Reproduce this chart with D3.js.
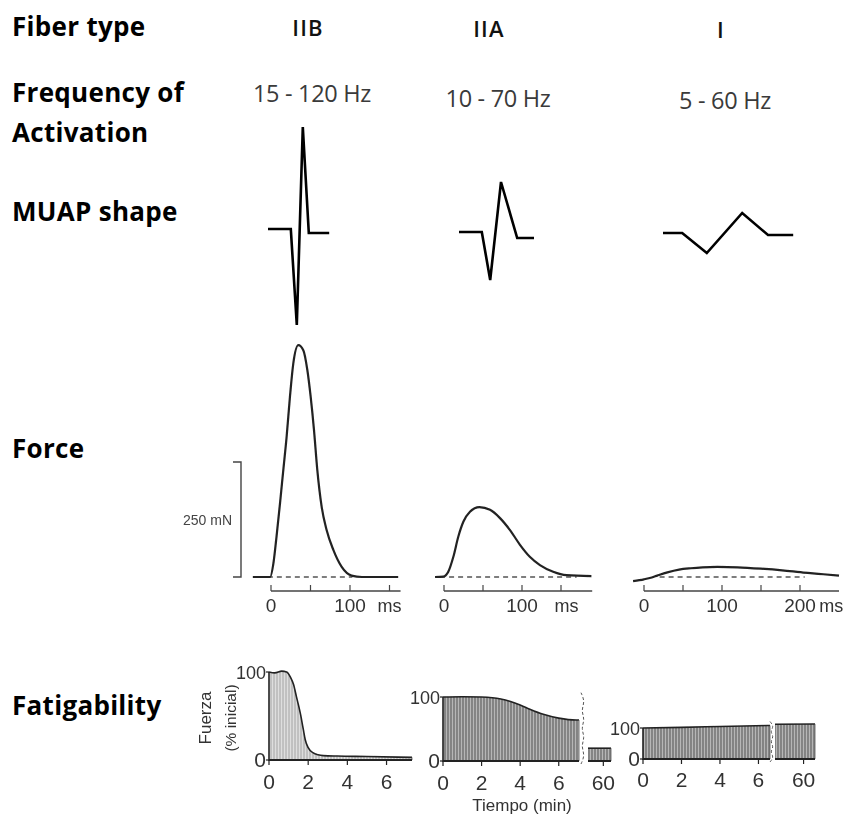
<!DOCTYPE html>
<html>
<head>
<meta charset="utf-8">
<script src="https://cdn.jsdelivr.net/npm/d3@7"></script>
<style>
  body { margin: 0; background: #fff; }
  svg { display: block; }
</style>
</head>
<body>
<svg id="chart" width="851" height="814"></svg>
<script>
// ---------- data ----------
const fiberTypes = ["IIB", "IIA", "I"];
const freqLabels = ["15 - 120 Hz", "10 - 70 Hz", "5 - 60 Hz"];
const rowLabels = [["Fiber type"], ["Frequency of", "Activation"], ["MUAP shape"], ["Force"], ["Fatigability"]];

// MUAP waveforms: time (ms) and amplitude (arbitrary units, positive up)
const muapTimeIIB = [0, 3.8, 4.8, 5.8, 6.8, 10.2];
const muapAmpIIB  = [0.02, 0.02, -0.94, 1.04, -0.02, -0.02];
const muapTimeIIA = [0, 3.8, 5.2, 7.0, 9.7, 12.5];
const muapAmpIIA  = [0.03, 0.03, -0.45, 0.53, -0.03, -0.03];
const muapTimeI   = [0, 3.2, 7.3, 13.2, 17.5, 21.7];
const muapAmpI    = [0.01, 0.01, -0.19, 0.21, -0.01, -0.01];

// Twitch force: time (ms) and force (mN)
const twitchTimeIIB = [-23, -5, -1, 3, 7, 11.4, 15.6, 19.8, 24, 28.2, 34.6, 40.9, 46, 50.2, 54.4, 58.6, 64.1, 70.4, 78.9, 89.5, 102, 115, 161];
const twitchIIB     = [0, 0, 0, 29, 88, 160, 233, 305, 392, 464, 504, 493, 450, 392, 320, 233, 153, 102, 59, 22, 3, 0, 0];
const twitchTimeIIA = [-11.5, -1, 5.5, 12, 18.4, 24.8, 33.3, 45.3, 59, 71.8, 84.6, 97.4, 110, 123, 140, 157, 189];
const twitchIIA     = [0, 1, 11.5, 44, 88, 120, 142, 152, 146, 128, 102, 70, 44, 26, 11.5, 4, 2];
const twitchTimeI   = [-14, 0, 10, 17, 30, 45, 60, 75, 94, 120, 150, 180, 210, 230, 250];
const twitchI       = [-9, -5, -1, 3, 10, 16, 19, 21, 22, 21, 18, 14, 9, 6, 3];
const twitchTicks   = [[0, 50, 100, 150], [0, 50, 100, 150], [0, 50, 100, 150, 200]];
const twitchTickLabels = [[["0", 0], ["100", 100], ["ms", 150]], [["0", 0], ["100", 100], ["ms", 157]], [["0", 0], ["100", 100], ["200", 200], ["ms", 240]]];
const twitchDashRange = [[-4, 103], [-5, 170], [20, 206]];
const scaleBarValue = 250; // mN

// Fatigue: time (min) and force (% of initial)
const fatigueTimeIIB = [0, 0.3, 0.65, 0.9, 1.1, 1.25, 1.4, 1.6, 1.75, 1.85, 2.0, 2.26, 2.5, 2.77, 3.5, 5, 7.3];
const fatigueIIB     = [100, 99, 101, 100, 94, 86, 72, 53, 35, 23, 14, 8, 6, 5, 4.5, 4, 3];
const fatigueTimeIIA = [0, 1, 2, 3, 3.5, 4, 4.5, 5.2, 6, 6.9, 7.05];
const fatigueIIA     = [100, 100.5, 100, 97, 93, 87.5, 81, 73, 67, 64, 64];
const fatigueTailTimeIIA = [59.2, 60.4];
const fatigueTailIIA     = [20, 20];
const fatigueTimeI   = [0, 2, 4, 6.6];
const fatigueI       = [100, 102, 105, 108];
const fatigueTailTimeI = [58.5, 60.6];
const fatigueTailI     = [112, 113];
const fatigueTicks = [[0, 2, 4, 6], [0, 2, 4, 6, 60], [0, 2, 4, 6, 60]];

// ---------- drawing ----------
const svg = d3.select("#chart");
const HEAD = "'Open Sans', sans-serif";
const FIG = "'Liberation Sans', Arial, sans-serif";
const zip = (a, b) => a.map((v, i) => [v, b[i]]);

const defs = svg.append("defs");
defs.append("filter").attr("id", "soft")
  .append("feGaussianBlur").attr("stdDeviation", 0.45);

function stripes(id, base, line, w) {
  const p = defs.append("pattern").attr("id", id).attr("patternUnits", "userSpaceOnUse")
    .attr("width", 3).attr("height", 10);
  p.append("rect").attr("width", 3).attr("height", 10).attr("fill", base);
  p.append("line").attr("x1", 1).attr("x2", 1).attr("y1", 0).attr("y2", 10)
    .attr("stroke", line).attr("stroke-width", w);
}
stripes("hatchLight", "#dedede", "#9c9c9c", 0.9);
stripes("hatchDark", "#b6b6b6", "#5a5a5a", 1.1);

// Row labels
const rowBaselines = [[36], [102, 142], [221], [458], [715]];
rowLabels.forEach((lines, i) => {
  lines.forEach((txt, j) => {
    svg.append("text").attr("x", 12).attr("y", rowBaselines[i][j])
      .attr("font-family", HEAD).attr("font-weight", 700).attr("font-size", 26)
      .attr("letter-spacing", 0.3).attr("fill", "#000").text(txt);
  });
});

// Column headers
const headX = [308, 489, 721];
const headY = [36, 37, 38];
svg.selectAll("text.fiber").data(fiberTypes).join("text").attr("class", "fiber")
  .attr("x", (d, i) => headX[i]).attr("y", (d, i) => headY[i])
  .attr("text-anchor", "middle").attr("font-family", HEAD).attr("font-size", 22)
  .attr("font-weight", 600).attr("letter-spacing", 1.2).attr("fill", "#111").text(d => d);

const freqX = [312, 498, 725];
const freqY = [102, 107, 109];
svg.selectAll("text.freq").data(freqLabels).join("text").attr("class", "freq")
  .attr("x", (d, i) => freqX[i]).attr("y", (d, i) => freqY[i])
  .attr("text-anchor", "middle").attr("font-family", HEAD).attr("font-size", 23.5)
  .attr("fill", "#3a3a3a").attr("letter-spacing", -0.3).text(d => d);

// MUAP shapes
const muapData = [zip(muapTimeIIB, muapAmpIIB), zip(muapTimeIIA, muapAmpIIA), zip(muapTimeI, muapAmpI)];
const muapStart = [268, 459, 663];
const muapBase = [231, 235, 234];
muapData.forEach((pts, i) => {
  const x = d3.scaleLinear().domain([0, 1]).range([muapStart[i], muapStart[i] + 6]);
  const y = d3.scaleLinear().domain([0, 1]).range([muapBase[i], muapBase[i] - 100]);
  svg.append("path").datum(pts)
    .attr("d", d3.line().x(d => x(d[0])).y(d => y(d[1])))
    .attr("fill", "none").attr("stroke", "#000").attr("stroke-width", 2.6)
    .attr("stroke-linejoin", "miter");
});

// Twitch force panels
const forceG = svg.append("g").attr("filter", "url(#soft)");
const yForce = d3.scaleLinear().domain([0, scaleBarValue]).range([577, 462]);
const twitchData = [zip(twitchTimeIIB, twitchIIB), zip(twitchTimeIIA, twitchIIA), zip(twitchTimeI, twitchI)];
const twitchX0 = [271, 444, 644];
const twitchPx = [0.79, 0.78, 0.78];
const twitchAxisEnd = [164, 190, 250];
const axisY = 591;

twitchData.forEach((pts, i) => {
  const x = d3.scaleLinear().domain([0, 100]).range([twitchX0[i], twitchX0[i] + 100 * twitchPx[i]]);
  // resting baseline
  forceG.append("line")
    .attr("x1", x(twitchDashRange[i][0])).attr("x2", x(twitchDashRange[i][1]))
    .attr("y1", yForce(0)).attr("y2", yForce(0))
    .attr("stroke", "#555").attr("stroke-width", 1.4).attr("stroke-dasharray", "5,4");
  // twitch curve
  forceG.append("path").datum(pts)
    .attr("d", d3.line().x(d => x(d[0])).y(d => yForce(d[1])).curve(d3.curveMonotoneX))
    .attr("fill", "none").attr("stroke", "#222").attr("stroke-width", 2.2);
  // time axis with upward ticks
  forceG.append("line").attr("x1", x(0)).attr("x2", x(twitchAxisEnd[i]))
    .attr("y1", axisY).attr("y2", axisY).attr("stroke", "#444").attr("stroke-width", 1.3);
  forceG.selectAll(null).data(twitchTicks[i]).join("line")
    .attr("x1", d => x(d)).attr("x2", d => x(d)).attr("y1", axisY).attr("y2", axisY - 6)
    .attr("stroke", "#444").attr("stroke-width", 1.2);
  forceG.selectAll(null).data(twitchTickLabels[i]).join("text")
    .attr("x", d => x(d[1])).attr("y", 612).attr("text-anchor", "middle")
    .attr("font-family", FIG).attr("font-size", d => d[0] === "ms" ? 18 : 19)
    .attr("fill", "#333").text(d => d[0]);
});

// 250 mN scale bar
const barX = 241;
forceG.append("path")
  .attr("d", `M${barX - 8},${yForce(scaleBarValue)}H${barX}V${yForce(0)}H${barX - 8}`)
  .attr("fill", "none").attr("stroke", "#444").attr("stroke-width", 1.4);
forceG.append("text").attr("x", 232).attr("y", 525).attr("text-anchor", "end")
  .attr("font-family", FIG).attr("font-size", 14).attr("fill", "#444").text(scaleBarValue + " mN");

// Fatigue panels
const fatG = svg.append("g").attr("filter", "url(#soft)");
const fatigue = [
  { main: zip(fatigueTimeIIB, fatigueIIB), tail: null,
    xd: [0, 7.3], xr: [269, 412], yr: [760, 672], fill: "url(#hatchLight)", brk: null, labY: 789 },
  { main: zip(fatigueTimeIIA, fatigueIIA), tail: zip(fatigueTailTimeIIA, fatigueTailIIA),
    xd: [0, 7.05, 59.2, 60.4], xr: [443, 579, 588, 611], yr: [761, 697], fill: "url(#hatchDark)", brk: 583, labY: 790 },
  { main: zip(fatigueTimeI, fatigueI), tail: zip(fatigueTailTimeI, fatigueTailI),
    xd: [0, 6.6, 58.5, 60.6], xr: [643, 770, 775, 815], yr: [759, 728], fill: "url(#hatchDark)", brk: 772, labY: 787 }
];

fatigue.forEach((p, i) => {
  const x = d3.scaleLinear().domain(p.xd).range(p.xr);
  const y = d3.scaleLinear().domain([0, 100]).range(p.yr);
  const area = d3.area().x(d => x(d[0])).y0(y(0)).y1(d => y(d[1])).curve(d3.curveMonotoneX);
  const top = d3.line().x(d => x(d[0])).y(d => y(d[1])).curve(d3.curveMonotoneX);
  [p.main, p.tail].filter(Boolean).forEach(seg => {
    fatG.append("path").datum(seg).attr("d", area).attr("fill", p.fill);
    fatG.append("path").datum(seg).attr("d", top)
      .attr("fill", "none").attr("stroke", "#222").attr("stroke-width", 1.6);
    fatG.append("line").attr("x1", x(seg[seg.length - 1][0])).attr("x2", x(seg[seg.length - 1][0]))
      .attr("y1", y(0)).attr("y2", y(seg[seg.length - 1][1]))
      .attr("stroke", "#555").attr("stroke-width", 0.8);
  });
  // axes
  const xEnd = p.xr[p.xr.length - 1];
  if (p.brk) {
    fatG.append("line").attr("x1", p.xr[0]).attr("x2", p.xr[1]).attr("y1", y(0)).attr("y2", y(0))
      .attr("stroke", "#222").attr("stroke-width", 2);
    fatG.append("line").attr("x1", p.xr[2]).attr("x2", xEnd).attr("y1", y(0)).attr("y2", y(0))
      .attr("stroke", "#222").attr("stroke-width", 2);
    // axis break: wavy dashed edge
    const y0 = y(0) + 3, y1 = y(d3.max(p.main, d => d[1])) - 4;
    const n = 8;
    const zig = d3.range(n + 1).map(k => [p.brk + (k % 2 ? 2 : -2), y0 + (y1 - y0) * k / n]);
    fatG.append("path").datum(zig).attr("d", d3.line().curve(d3.curveBasis))
      .attr("fill", "none").attr("stroke", "#555").attr("stroke-width", 1).attr("stroke-dasharray", "3,2");
  } else {
    fatG.append("line").attr("x1", p.xr[0]).attr("x2", xEnd).attr("y1", y(0)).attr("y2", y(0))
      .attr("stroke", "#222").attr("stroke-width", 2);
  }
  fatG.append("line").attr("x1", p.xr[0]).attr("x2", p.xr[0]).attr("y1", y(0) + 1).attr("y2", y(100))
    .attr("stroke", "#222").attr("stroke-width", 1.6);
  fatG.selectAll(null).data([0, 100]).join("line")
    .attr("x1", p.xr[0] - 3).attr("x2", p.xr[0]).attr("y1", d => y(d)).attr("y2", d => y(d))
    .attr("stroke", "#222").attr("stroke-width", 1.2);
  fatG.selectAll(null).data(fatigueTicks[i]).join("line")
    .attr("x1", d => x(d)).attr("x2", d => x(d)).attr("y1", y(0)).attr("y2", y(0) + 5)
    .attr("stroke", "#222").attr("stroke-width", 1.2);
  fatG.selectAll(null).data(fatigueTicks[i]).join("text")
    .attr("x", d => x(d)).attr("y", p.labY).attr("text-anchor", "middle")
    .attr("font-family", FIG).attr("font-size", 21).attr("fill", "#333").text(d => d);
  fatG.selectAll(null).data([0, 100]).join("text")
    .attr("x", p.xr[0] - 3).attr("y", d => y(d) + 6.5).attr("text-anchor", "end")
    .attr("font-family", FIG).attr("font-size", d => d === 0 ? 21 : 18).attr("fill", "#333").text(d => d);
});

// Fatigue axis titles
fatG.append("text").attr("transform", "translate(211,718) rotate(-90)").attr("text-anchor", "middle")
  .attr("font-family", FIG).attr("font-size", 17).attr("fill", "#333").text("Fuerza");
fatG.append("text").attr("transform", "translate(236,718) rotate(-90)").attr("text-anchor", "middle")
  .attr("font-family", FIG).attr("font-size", 15.5).attr("fill", "#333").text("(% inicial)");
fatG.append("text").attr("x", 522).attr("y", 811).attr("text-anchor", "middle")
  .attr("font-family", FIG).attr("font-size", 17).attr("fill", "#333").text("Tiempo (min)");
</script>
</body>
</html>
